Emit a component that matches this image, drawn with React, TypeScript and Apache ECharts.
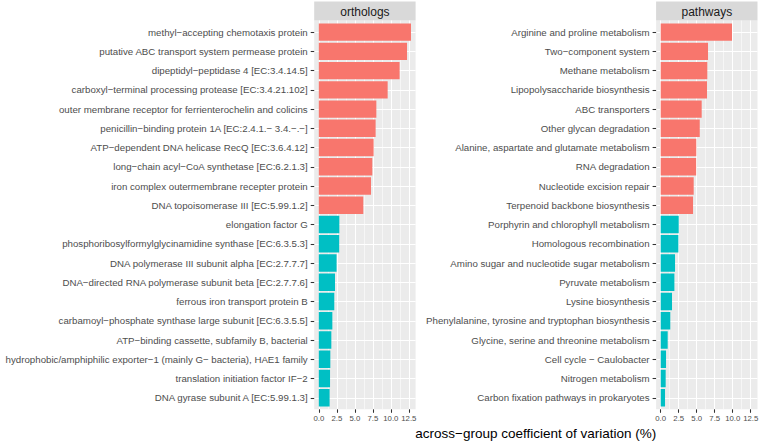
import React, { useEffect, useRef } from "react";
import * as echarts from "echarts";

const orthologNames = [
  "methyl−accepting chemotaxis protein",
  "putative ABC transport system permease protein",
  "dipeptidyl−peptidase 4 [EC:3.4.14.5]",
  "carboxyl−terminal processing protease [EC:3.4.21.102]",
  "outer membrane receptor for ferrienterochelin and colicins",
  "penicillin−binding protein 1A [EC:2.4.1.− 3.4.−.−]",
  "ATP−dependent DNA helicase RecQ [EC:3.6.4.12]",
  "long−chain acyl−CoA synthetase [EC:6.2.1.3]",
  "iron complex outermembrane recepter protein",
  "DNA topoisomerase III [EC:5.99.1.2]",
  "elongation factor G",
  "phosphoribosylformylglycinamidine synthase [EC:6.3.5.3]",
  "DNA polymerase III subunit alpha [EC:2.7.7.7]",
  "DNA−directed RNA polymerase subunit beta [EC:2.7.7.6]",
  "ferrous iron transport protein B",
  "carbamoyl−phosphate synthase large subunit [EC:6.3.5.5]",
  "ATP−binding cassette, subfamily B, bacterial",
  "hydrophobic/amphiphilic exporter−1 (mainly G− bacteria), HAE1 family",
  "translation initiation factor IF−2",
  "DNA gyrase subunit A [EC:5.99.1.3]",
];
const orthologValues = [
  12.8, 12.25, 11.22, 9.56, 7.99, 7.89, 7.61, 7.43, 7.25, 6.18,
  2.85, 2.83, 2.47, 2.25, 2.15, 1.88, 1.74, 1.6, 1.56, 1.5,
];
const orthologGroups = [
  "A", "A", "A", "A", "A", "A", "A", "A", "A", "A",
  "B", "B", "B", "B", "B", "B", "B", "B", "B", "B",
];

const pathwayNames = [
  "Arginine and proline metabolism",
  "Two−component system",
  "Methane metabolism",
  "Lipopolysaccharide biosynthesis",
  "ABC transporters",
  "Other glycan degradation",
  "Alanine, aspartate and glutamate metabolism",
  "RNA degradation",
  "Nucleotide excision repair",
  "Terpenoid backbone biosynthesis",
  "Porphyrin and chlorophyll metabolism",
  "Homologous recombination",
  "Amino sugar and nucleotide sugar metabolism",
  "Pyruvate metabolism",
  "Lysine biosynthesis",
  "Phenylalanine, tyrosine and tryptophan biosynthesis",
  "Glycine, serine and threonine metabolism",
  "Cell cycle − Caulobacter",
  "Nitrogen metabolism",
  "Carbon fixation pathways in prokaryotes",
];
const pathwayValues = [
  9.9, 6.57, 6.47, 6.43, 5.69, 5.42, 4.94, 4.92, 4.58, 4.49,
  2.5, 2.45, 1.99, 1.9, 1.57, 1.33, 0.97, 0.74, 0.69, 0.6,
];
const pathwayGroups = [
  "A", "A", "A", "A", "A", "A", "A", "A", "A", "A",
  "B", "B", "B", "B", "B", "B", "B", "B", "B", "B",
];

const facetTitles = ["orthologs", "pathways"];
const xMajorTicks = [0, 2.5, 5, 7.5, 10, 12.5];
const xMinorTicks = [1.25, 3.75, 6.25, 8.75, 11.25];
const xTitle = "across−group coefficient of variation (%)";

const groupColors: Record<string, string> = { A: "#F8766D", B: "#00BFC4" };

const FONT = "'Liberation Sans', Arial, Helvetica, sans-serif";
const X_MIN = -0.64;
const X_MAX = 13.44;
const Y_MIN = -0.6;
const Y_MAX = 19.6;

const PANEL_TOP = 20.5;
const PANEL_H = 388.8;
const PANEL_W = 101.4;
const PANEL_LEFTS = [314.2, 656.1];

export default function App() {
  const ref = useRef<HTMLDivElement>(null);

  useEffect(() => {
    if (!ref.current) return;
    const chart = echarts.init(ref.current, undefined, { renderer: "svg" });

    const facets = [
      { names: orthologNames, values: orthologValues, groups: orthologGroups },
      { names: pathwayNames, values: pathwayValues, groups: pathwayGroups },
    ];
    const idx = orthologNames.map((_, i) => i);

    const grids: any[] = [];
    const xAxes: any[] = [];
    const yAxes: any[] = [];
    const series: any[] = [];
    const graphics: any[] = [];

    facets.forEach((f, k) => {
      const left = PANEL_LEFTS[k];
      grids.push({
        left,
        top: PANEL_TOP,
        width: PANEL_W,
        height: PANEL_H,
        show: true,
        backgroundColor: "#EBEBEB",
        borderWidth: 0,
        containLabel: false,
        outerBoundsMode: "none",
      });
      xAxes.push({
        type: "value",
        gridIndex: k,
        min: X_MIN,
        max: X_MAX,
        position: "bottom",
        axisLine: { show: false, onZero: false },
        axisTick: {
          show: true,
          customValues: xMajorTicks,
          length: 3.5,
          lineStyle: { color: "#333333", width: 1.07 },
        },
        axisLabel: {
          show: true,
          customValues: xMajorTicks,
          formatter: (v: number) => v.toFixed(1),
          fontSize: 7.8,
          color: "#4D4D4D",
          fontFamily: FONT,
          margin: 5,
          hideOverlap: false,
        },
        splitLine: { show: true, lineStyle: { color: "#FFFFFF", width: 1.07 } },
      });
      xAxes.push({
        type: "value",
        gridIndex: k,
        min: X_MIN,
        max: X_MAX,
        position: "top",
        axisLine: { show: false, onZero: false },
        axisTick: { show: false, customValues: xMinorTicks },
        axisLabel: { show: false, customValues: xMinorTicks },
        splitLine: { show: true, lineStyle: { color: "#FFFFFF", width: 0.55 } },
      });
      yAxes.push({
        type: "value",
        gridIndex: k,
        min: Y_MIN,
        max: Y_MAX,
        inverse: true,
        position: "left",
        axisLine: { show: false, onZero: false },
        axisTick: {
          show: true,
          customValues: idx,
          length: 3.5,
          lineStyle: { color: "#333333", width: 1.07 },
        },
        axisLabel: {
          show: true,
          customValues: idx,
          formatter: (v: number) => f.names[Math.round(v)] ?? "",
          fontSize: 9.7,
          color: "#4D4D4D",
          fontFamily: FONT,
          margin: 6.5,
          hideOverlap: false,
        },
        splitLine: { show: true, lineStyle: { color: "#FFFFFF", width: 1.07 } },
      });

      series.push({
        type: "custom",
        xAxisIndex: k * 2,
        yAxisIndex: k,
        clip: true,
        silent: true,
        z: 3,
        label: { show: false },
        labelLine: { show: false },
        emphasis: { disabled: true },
        select: { disabled: true },
        encode: { x: 0, y: 1 },
        data: f.values.map((v, i) => [v, i, f.groups[i] === "A" ? 0 : 1]),
        renderItem: (params: any, api: any) => {
          const v = api.value(0);
          const i = api.value(1);
          const g = api.value(2);
          const p0 = api.coord([0, i]);
          const p1 = api.coord([v, i]);
          const h = api.size([0, 0.9])[1];
          return {
            type: "rect",
            shape: { x: p0[0], y: p0[1] - h / 2, width: p1[0] - p0[0], height: h },
            style: { fill: g === 0 ? groupColors.A : groupColors.B },
          };
        },
      });

      graphics.push({
        type: "rect",
        shape: { x: left, y: 1.5, width: PANEL_W, height: PANEL_TOP - 1.5 },
        style: { fill: "#D9D9D9" },
        silent: true,
      });
      graphics.push({
        type: "text",
        x: left + PANEL_W / 2,
        y: (1.5 + PANEL_TOP) / 2 + 0.5,
        style: {
          text: facetTitles[k],
          fill: "#1A1A1A",
          fontSize: 12,
          fontFamily: FONT,
          align: "center",
          verticalAlign: "middle",
        },
        silent: true,
      });
    });

    graphics.push({
      type: "text",
      x: (PANEL_LEFTS[0] + PANEL_LEFTS[1] + PANEL_W) / 2,
      y: 433.5,
      style: {
        text: xTitle,
        fill: "#000000",
        fontSize: 13.5,
        fontFamily: FONT,
        align: "center",
        verticalAlign: "middle",
      },
      silent: true,
    });

    chart.setOption({
      animation: false,
      backgroundColor: "#FFFFFF",
      tooltip: { show: false },
      textStyle: { fontFamily: FONT },
      grid: grids,
      xAxis: xAxes,
      yAxis: yAxes,
      series,
      graphic: graphics,
    });

    return () => chart.dispose();
  }, []);

  return (
    <div
      ref={ref}
      style={{ position: "absolute", left: 0, top: 0, width: 760, height: 441 }}
    />
  );
}
